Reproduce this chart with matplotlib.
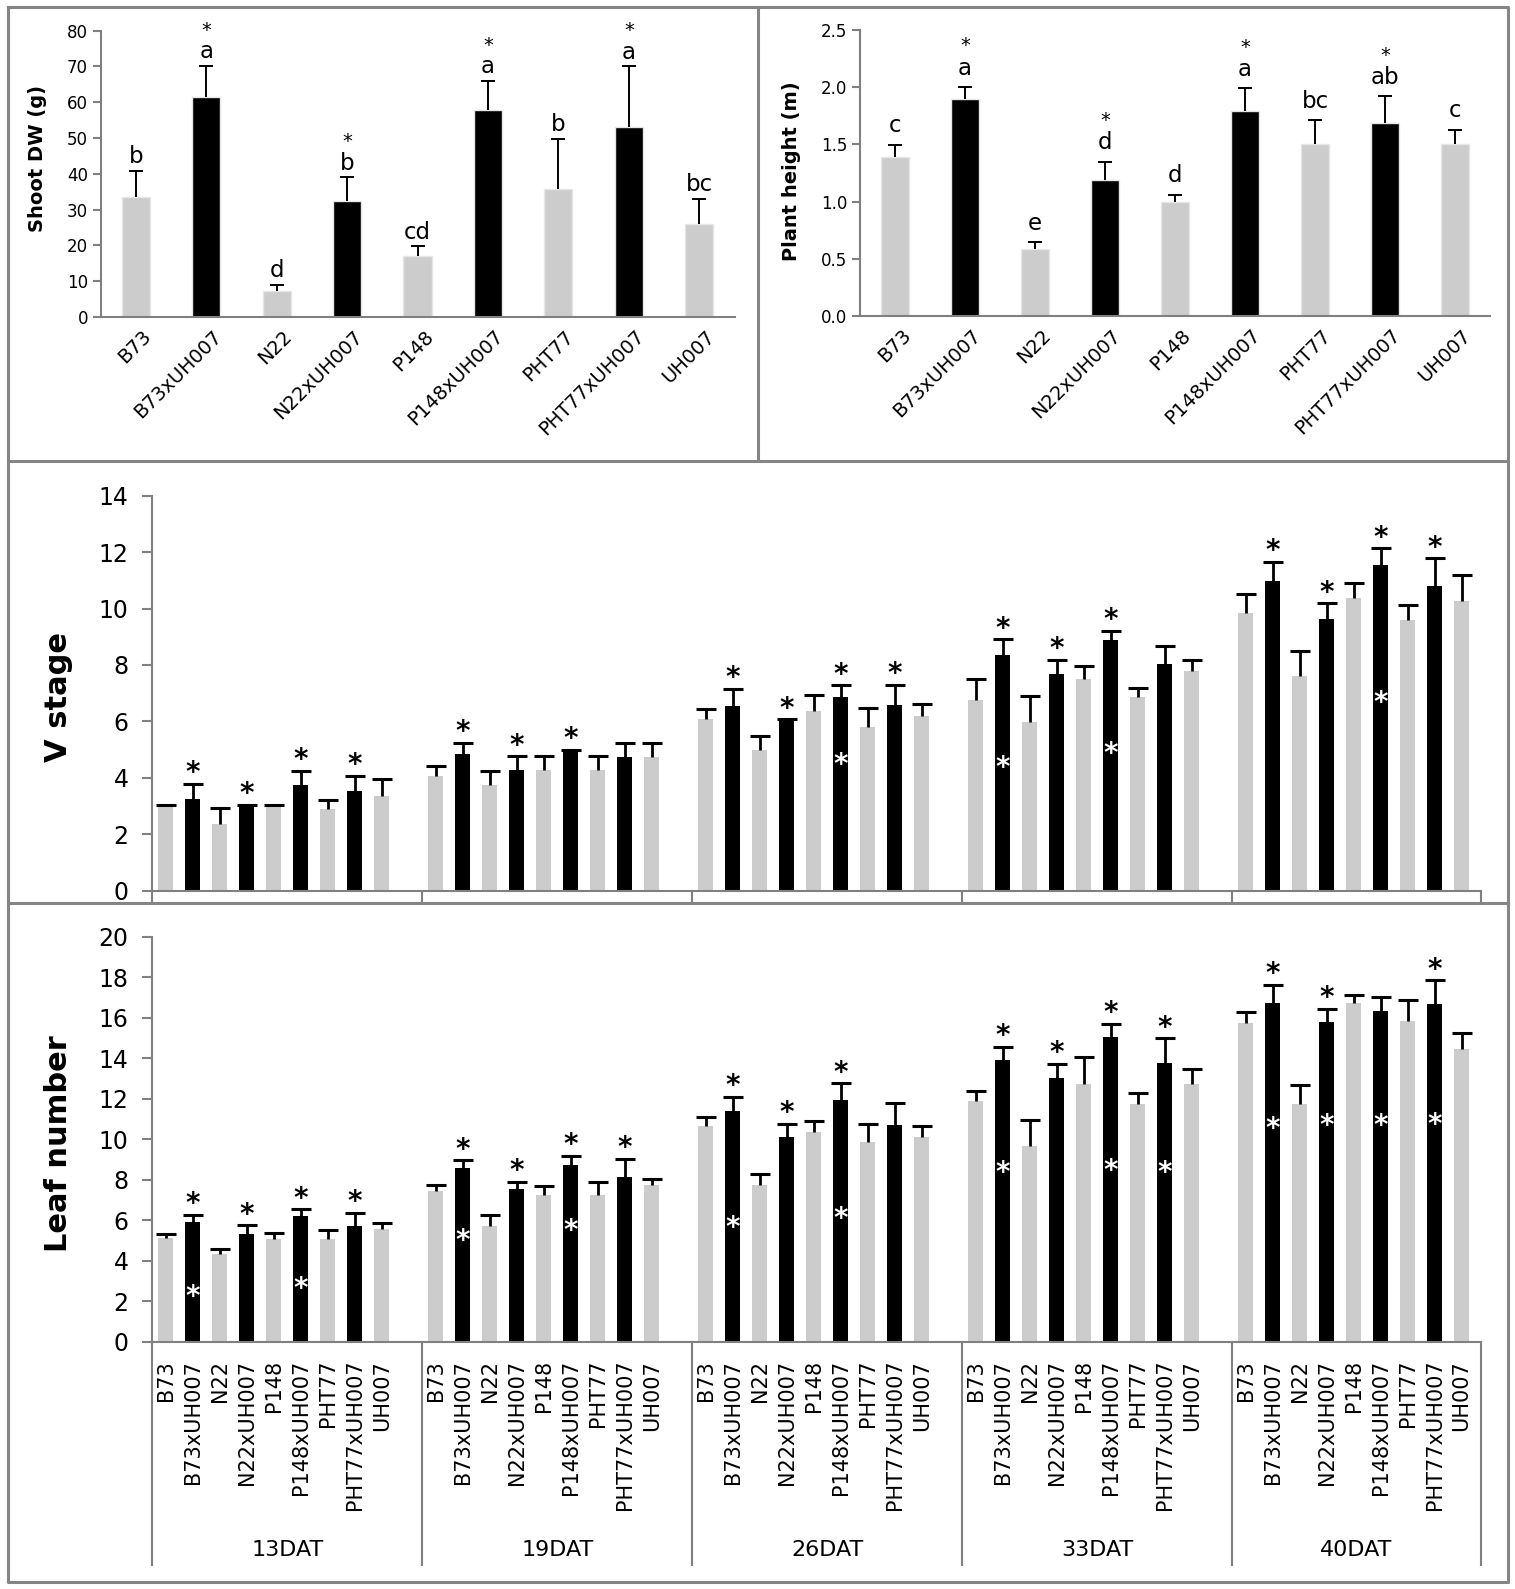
import numpy as np
import matplotlib
matplotlib.use("Agg")
import matplotlib.pyplot as plt
from matplotlib.lines import Line2D
from matplotlib.transforms import blended_transform_factory, ScaledTranslation

# ---- data ----
genotypes = ["B73", "B73xUH007", "N22", "N22xUH007", "P148",
             "P148xUH007", "PHT77", "PHT77xUH007", "UH007"]
days = ["13DAT", "19DAT", "26DAT", "33DAT", "40DAT"]

shoot_dw = [33.5, 61.4, 7.2, 32.3, 17.1, 57.8, 35.9, 53.0, 26.0]
shoot_dw_err = [7.4, 8.7, 1.8, 6.7, 2.6, 8.2, 13.8, 17.0, 7.1]
shoot_dw_letters = ["b", "a", "d", "b", "cd", "a", "b", "a", "bc"]
shoot_dw_star = [0, 1, 0, 1, 0, 1, 0, 1, 0]

plant_height = [1.39, 1.90, 0.59, 1.19, 1.00, 1.79, 1.50, 1.69, 1.50]
plant_height_err = [0.105, 0.10, 0.055, 0.16, 0.06, 0.20, 0.21, 0.23, 0.13]
plant_height_letters = ["c", "a", "e", "d", "d", "a", "bc", "ab", "c"]
plant_height_star = [0, 1, 0, 1, 0, 1, 0, 1, 0]

v_stage = [
    [3.00, 3.25, 2.37, 3.02, 3.00, 3.75, 2.88, 3.55, 3.35],
    [4.06, 4.83, 3.75, 4.28, 4.28, 4.97, 4.28, 4.73, 4.73],
    [6.09, 6.54, 4.97, 6.04, 6.36, 6.86, 5.80, 6.57, 6.19],
    [6.77, 8.37, 5.98, 7.69, 7.49, 8.88, 6.86, 8.05, 7.79],
    [9.86, 10.98, 7.60, 9.64, 10.36, 11.56, 9.61, 10.79, 10.28],
]
v_stage_err = [
    [0.03, 0.54, 0.56, 0.03, 0.03, 0.51, 0.35, 0.53, 0.61],
    [0.35, 0.41, 0.51, 0.48, 0.48, 0.03, 0.48, 0.51, 0.51],
    [0.34, 0.60, 0.53, 0.03, 0.59, 0.42, 0.69, 0.73, 0.44],
    [0.72, 0.54, 0.92, 0.48, 0.47, 0.33, 0.34, 0.62, 0.38],
    [0.64, 0.68, 0.89, 0.54, 0.55, 0.57, 0.51, 0.99, 0.90],
]
v_stage_star = [[1, 3, 5, 7], [1, 3, 5], [1, 3, 5, 7], [1, 3, 5], [1, 3, 5, 7]]
# white asterisks inside bars: (day, genotype, height)
v_stage_white = [(2, 5, 4.73), (3, 1, 4.62), (3, 5, 5.09), (4, 5, 6.92)]

leaf_number = [
    [5.13, 5.92, 4.31, 5.34, 5.06, 6.21, 5.06, 5.72, 5.55],
    [7.43, 8.58, 5.72, 7.56, 7.23, 8.71, 7.23, 8.13, 7.72],
    [10.65, 11.42, 7.72, 10.14, 10.35, 11.95, 9.86, 10.73, 10.14],
    [11.88, 13.94, 9.65, 13.02, 12.74, 15.04, 11.75, 13.75, 12.74],
    [15.74, 16.73, 11.75, 15.81, 16.73, 16.32, 15.83, 16.68, 14.46],
]
leaf_number_err = [
    [0.21, 0.36, 0.29, 0.41, 0.33, 0.33, 0.48, 0.66, 0.33],
    [0.33, 0.38, 0.56, 0.33, 0.46, 0.46, 0.66, 0.91, 0.33],
    [0.44, 0.66, 0.58, 0.62, 0.58, 0.82, 0.90, 1.05, 0.54],
    [0.53, 0.64, 1.33, 0.70, 1.34, 0.65, 0.53, 1.24, 0.74],
    [0.53, 0.90, 0.95, 0.62, 0.39, 0.72, 1.05, 1.18, 0.82],
]
leaf_number_star = [[1, 3, 5, 7], [1, 3, 5, 7], [1, 3, 5], [1, 3, 5, 7], [1, 3, 7]]
leaf_number_white = [(0, 1, 2.55), (0, 5, 2.96), (1, 1, 5.34), (1, 5, 5.83),
                     (2, 1, 6.00), (2, 5, 6.40), (3, 1, 8.71), (3, 5, 8.79),
                     (3, 7, 8.71), (4, 1, 10.85), (4, 3, 11.01), (4, 5, 11.00),
                     (4, 7, 11.06)]

GREY = "#cccccc"
DARK = "#000000"
AXC = "#808080"
FRAME = "#858585"
W, H = 1515, 1589

colors = [DARK if "x" in g else GREY for g in genotypes]


def box(l, t, r, b):
    return [l / W, 1 - b / H, (r - l) / W, (b - t) / H]


def frame_line(xs, ys):
    fig.add_artist(Line2D([x / W for x in xs], [1 - y / H for y in ys],
                          transform=fig.transFigure, color=FRAME, lw=2.2))


def style_axis(ax, tick_size):
    for s in ["top", "right"]:
        ax.spines[s].set_visible(False)
    for s in ["left", "bottom"]:
        ax.spines[s].set_color(AXC)
        ax.spines[s].set_linewidth(1.5)
    ax.tick_params(axis="y", colors=AXC, labelcolor="black", labelsize=tick_size,
                   width=1.5)


def upper_errorbar(ax, x, vals, errs, lw, cap, capthick):
    # only the upper half of the error bar, as in the original figure
    eb = ax.errorbar(x, vals, yerr=[np.zeros(len(vals)), errs], fmt="none",
                     ecolor="black", elinewidth=lw, capsize=cap, capthick=capthick)
    eb.lines[1][0].set_visible(False)


def star(ax, x, y, fs, color, dy=0.0, weight="bold"):
    # places the asterisk glyph centre dy points above (x, y)
    ax.annotate("*", (x, y), xytext=(0, dy - 0.55 * fs), textcoords="offset points",
                ha="center", va="baseline", fontsize=fs, color=color,
                fontweight=weight, annotation_clip=False)


fig = plt.figure(figsize=(W / 100, H / 100), dpi=100)

# ---- frames ----
frame_line([8, 1508, 1508, 8, 8], [7, 7, 1582, 1582, 7])
frame_line([8, 1508], [461, 461])
frame_line([757.5, 757.5], [7, 461])
frame_line([8, 1508], [903, 903])


# ---- top panels ----
def top_panel(rect, vals, errs, letters, stars, ylim, yticks, fmt, ylabel,
              label_xy, let_off, star_off):
    ax = fig.add_axes(box(*rect))
    x = np.arange(len(vals))
    ax.bar(x, vals, width=0.4, color=colors, edgecolor="#e6e6e6", linewidth=1)
    upper_errorbar(ax, x, vals, errs, 1.4, 5, 1.4)
    ax.set_xlim(-0.5, len(vals) - 0.5)
    ax.set_ylim(*ylim)
    ax.set_yticks(yticks)
    ax.set_yticklabels([fmt.format(t) for t in yticks])
    style_axis(ax, 12)
    ax.tick_params(axis="y", length=6, pad=3)
    ax.set_xticks(x)
    ax.set_xticklabels(genotypes, rotation=45, ha="right", rotation_mode="anchor",
                       fontsize=14)
    ax.tick_params(axis="x", length=0, pad=7)
    shift = ScaledTranslation(6 / 100, 0, fig.dpi_scale_trans)
    for lab in ax.get_xticklabels():
        lab.set_transform(lab.get_transform() + shift)
    ax.set_ylabel(ylabel, fontsize=14, fontweight="bold")
    ax.yaxis.set_label_coords(*label_xy)
    for i, (v, e) in enumerate(zip(vals, errs)):
        ax.annotate(letters[i], (i, v + e), xytext=(0, let_off),
                    textcoords="offset points", ha="center", va="baseline",
                    fontsize=16.5)
        if stars[i]:
            star(ax, i, v + e, 14, "black", dy=star_off, weight="normal")
    return ax


top_panel((100.5, 30.7, 734.5, 317), shoot_dw, shoot_dw_err, shoot_dw_letters,
          shoot_dw_star, (0, 80), np.arange(0, 81, 10), "{:.0f}", "Shoot DW (g)",
          (-0.084, 0.555), 5.5, 29.5)
top_panel((860, 30, 1490, 316), plant_height, plant_height_err,
          plant_height_letters, plant_height_star, (0, 2.5),
          np.arange(0, 2.51, 0.5), "{:.1f}", "Plant height (m)",
          (-0.094, 0.505), 9, 33.5)

# ---- bottom panels ----
XMAX = 49.2
bar_x = [[10 * g + i + 0.5 for i in range(len(genotypes))] for g in range(len(days))]
dividers = [0, 10, 20, 30, 40, XMAX]


def time_panel(rect, vals, errs, stars, whites, ymax, ylabel, label_xy, div_depth,
               show_labels):
    ax = fig.add_axes(box(*rect))
    for g in range(len(days)):
        ax.bar(bar_x[g], vals[g], width=0.55, color=colors, linewidth=0)
        upper_errorbar(ax, bar_x[g], vals[g], errs[g], 2, 7, 2.2)
        for i in stars[g]:
            star(ax, bar_x[g][i], vals[g][i] + errs[g][i], 20, "black", dy=13)
    for g, i, y in whites:
        star(ax, bar_x[g][i], y, 20, "white")
    ax.set_xlim(0, XMAX)
    ax.set_ylim(0, ymax)
    ax.set_yticks(np.arange(0, ymax + 1, 2))
    style_axis(ax, 17)
    ax.tick_params(axis="y", length=7, pad=10)
    ax.set_xticks([])
    trans = blended_transform_factory(ax.transData, ax.transAxes)
    for d in dividers:
        ax.plot([d, d], [0, -div_depth], transform=trans, color=AXC, lw=1.5,
                clip_on=False)
    ax.set_ylabel(ylabel, fontsize=22, fontweight="bold")
    ax.yaxis.set_label_coords(*label_xy)
    if show_labels:
        for g in range(len(days)):
            for i, name in enumerate(genotypes):
                ax.annotate(name, (bar_x[g][i], 0), xytext=(0, -13),
                            textcoords="offset points", rotation=90, ha="center",
                            va="top", fontsize=15)
            end = min(dividers[g] + 10, XMAX)
            ax.text((dividers[g] + end) / 2, -0.515, days[g], transform=trans,
                    ha="center", va="center", fontsize=16)
    return ax


time_panel((152.3, 495.7, 1480.5, 890.7), v_stage, v_stage_err, v_stage_star,
           v_stage_white, 14, "V stage", (-0.06, 0.49), 0.031, False)
time_panel((152.3, 937, 1480.5, 1341.7), leaf_number, leaf_number_err,
           leaf_number_star, leaf_number_white, 20, "Leaf number", (-0.06, 0.49),
           0.552, True)

fig.savefig("out.png", dpi=100, facecolor="white")
